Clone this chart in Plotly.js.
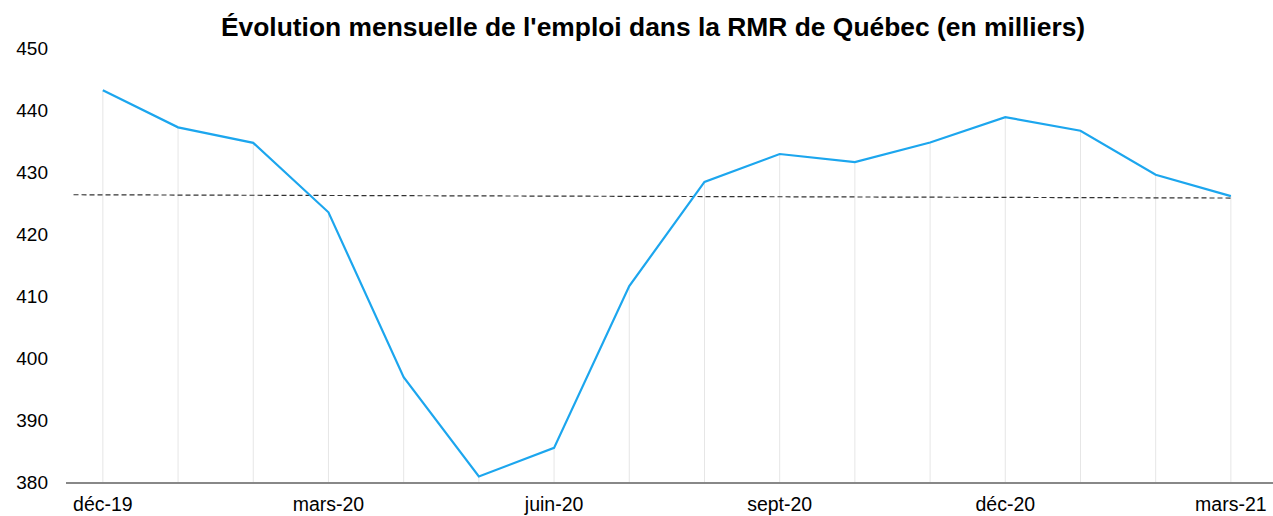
<!DOCTYPE html>
<html>
<head>
<meta charset="utf-8">
<script src="https://cdn.plot.ly/plotly-3.0.1.min.js"></script>
<style>html,body{margin:0;padding:0;background:#fff;}#chart{width:1273px;height:516px;}</style>
</head>
<body>
<div id="chart"></div>
<script>
const months = ["déc-19","janv-20","févr-20","mars-20","avr-20","mai-20","juin-20","juil-20","août-20","sept-20","oct-20","nov-20","déc-20","janv-21","févr-21","mars-21"];
const emploi = [443.2, 437.2, 434.7, 423.5, 396.9, 380.9, 385.5, 411.6, 428.4, 432.9, 431.6, 434.75, 438.85, 436.65, 429.55, 426.1];
const trendX = [-0.39, 15];
const trendY = [426.33, 425.8];
const labelEvery = 3;
const yMin = 380, yMax = 450;

const xIdx = months.map((_, i) => i);
const tickVals = xIdx.filter(i => i % labelEvery === 0);
const tickText = tickVals.map(i => months[i]);

const dropTrace = {
  x: xIdx, y: emploi, type: 'scatter', mode: 'markers',
  marker: {opacity: 0, size: 1},
  error_y: {type: 'data', symmetric: false, array: emploi.map(() => 0),
            arrayminus: emploi.map(v => v - yMin), width: 0, thickness: 1, color: '#e6e6e6'},
  hoverinfo: 'skip', showlegend: false
};
const trendTrace = {
  x: trendX, y: trendY, type: 'scatter', mode: 'lines',
  line: {color: '#333333', width: 1.2, dash: '5px,3px'},
  hoverinfo: 'skip', showlegend: false
};
const mainTrace = {
  x: xIdx, y: emploi, type: 'scatter', mode: 'lines',
  line: {color: '#1ca6ee', width: 2.2},
  showlegend: false
};

const layout = {
  width: 1273, height: 516,
  margin: {l: 66, r: 0, t: 48, b: 34.3},
  paper_bgcolor: '#ffffff', plot_bgcolor: '#ffffff',
  font: {family: 'Liberation Sans, Arial, sans-serif', color: '#000000', size: 19},
  title: {text: "<b>Évolution mensuelle de l'emploi dans la RMR de Québec (en milliers)</b>",
          x: 0.513, xanchor: 'center', y: 0.948, yanchor: 'middle',
          font: {size: 26.4, color: '#000000', family: 'Liberation Sans, Arial, sans-serif'}},
  xaxis: {range: [-0.49, 15.56], tickvals: tickVals, ticktext: tickText,
          showgrid: false, zeroline: false, showline: true, linecolor: '#888888', linewidth: 1.5,
          ticks: '', ticklabelstandoff: 4, automargin: false, fixedrange: true,
          tickfont: {size: 19.5, color: '#000'}},
  yaxis: {range: [yMin, yMax], dtick: 10, showgrid: false, zeroline: false, showline: false,
          ticks: '', ticklabelstandoff: 17, automargin: false, fixedrange: true,
          tickfont: {size: 19, color: '#000'}},
  hovermode: false
};

Plotly.newPlot('chart', [dropTrace, trendTrace, mainTrace], layout, {displayModeBar: false, staticPlot: true});
</script>
</body>
</html>
